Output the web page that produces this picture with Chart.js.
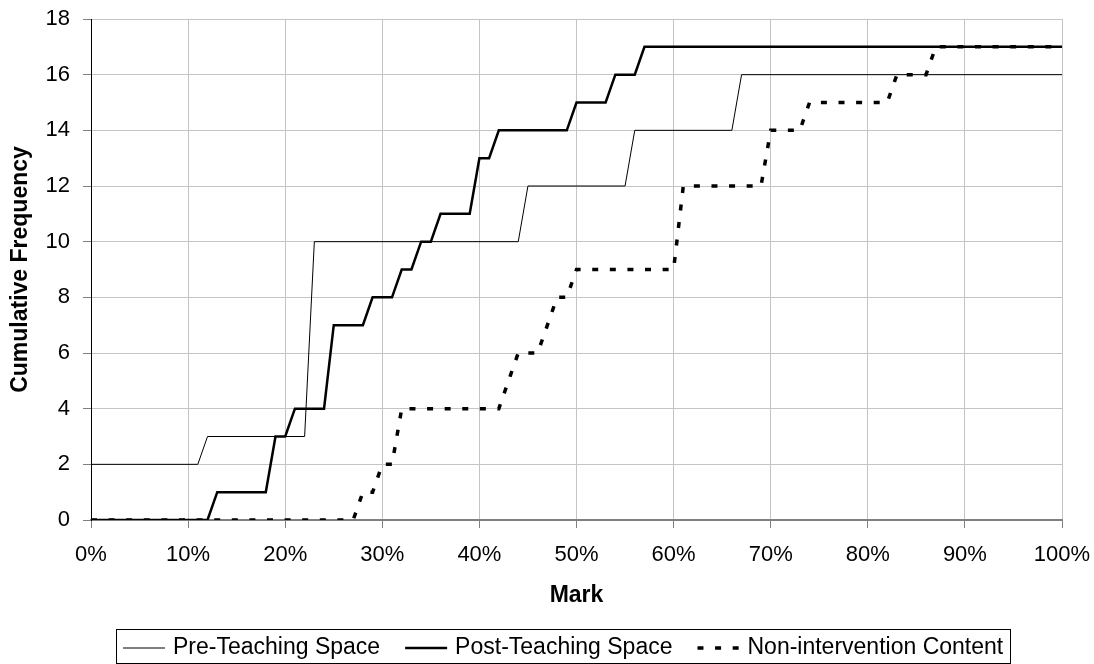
<!DOCTYPE html>
<html><head><meta charset="utf-8">
<script src="https://cdn.jsdelivr.net/npm/chart.js@4/dist/chart.umd.min.js"></script>
<style>html,body{margin:0;padding:0;background:#fff}canvas{display:block}</style>
</head><body>
<canvas id="c" width="1094" height="664"></canvas>
<script>
// ---- data ----
const seriesNames = ['Pre-Teaching Space', 'Post-Teaching Space', 'Non-intervention Content'];
const preMark  = [0, 11, 12, 22, 23, 44, 45, 55, 56, 66, 67, 100];
const preFreq  = [2, 2, 3, 3, 10, 10, 12, 12, 14, 14, 16, 16];
const postMark = [0, 12, 13, 18, 19, 20, 21, 24, 25, 28, 29, 31, 32, 33, 34, 35, 36, 39, 40, 41, 42, 49, 50, 53, 54, 56, 57, 100];
const postFreq = [0, 0, 1, 1, 3, 3, 4, 4, 7, 7, 8, 8, 9, 9, 10, 10, 11, 11, 13, 13, 14, 14, 15, 15, 16, 16, 17, 17];
const nonMark  = [0, 27, 28, 29, 30, 31, 32, 42, 44, 46, 48, 49, 50, 60, 61, 69, 70, 73, 74, 82, 83, 86, 87, 100];
const nonFreq  = [0, 0, 1, 1, 2, 2, 4, 4, 6, 6, 8, 8, 9, 9, 12, 12, 14, 14, 15, 15, 16, 16, 17, 17];
const xTickLabels = ['0%', '10%', '20%', '30%', '40%', '50%', '60%', '70%', '80%', '90%', '100%'];
const yTickLabels = ['0', '2', '4', '6', '8', '10', '12', '14', '16', '18'];
const xTitle = 'Mark';
const yTitle = 'Cumulative Frequency';

const FONT = '"Liberation Sans", Arial, Helvetica, sans-serif';
const toPoints = (xs, ys) => xs.map((x, i) => ({x: x, y: ys[i]}));

// custom boxed legend (Excel style)
const boxedLegend = {
  id: 'boxedLegend',
  afterDraw(chart, args, opts) {
    const ctx = chart.ctx;
    ctx.save();
    ctx.font = opts.fontSize + 'px ' + FONT;
    const yMid = opts.top + opts.height / 2 + 2;
    let x = opts.left + opts.pad;
    chart.data.datasets.forEach((ds, i) => {
      ctx.beginPath();
      ctx.setLineDash(ds.borderDash || []);
      ctx.lineWidth = ds.borderWidth;
      ctx.strokeStyle = ds.borderColor;
      ctx.lineCap = 'butt';
      ctx.moveTo(x, yMid);
      ctx.lineTo(x + opts.lineLen, yMid);
      ctx.stroke();
      ctx.setLineDash([]);
      x += opts.lineLen + opts.textGap;
      ctx.fillStyle = '#000';
      ctx.textBaseline = 'middle';
      ctx.textAlign = 'left';
      ctx.fillText(ds.label, x, yMid);
      x += ctx.measureText(ds.label).width;
      if (i < chart.data.datasets.length - 1) x += opts.itemGap;
    });
    const right = x + opts.pad;
    ctx.lineWidth = 1;
    ctx.strokeStyle = '#000';
    ctx.strokeRect(Math.round(opts.left) + 0.5, Math.round(opts.top) + 0.5,
                   Math.round(right - opts.left), Math.round(opts.height));
    ctx.restore();
  }
};

new Chart(document.getElementById('c'), {
  type: 'line',
  data: {
    datasets: [
      {label: seriesNames[0], data: toPoints(preMark, preFreq), borderColor: '#000', borderWidth: 1,
       pointRadius: 0, tension: 0, fill: false},
      {label: seriesNames[1], data: toPoints(postMark, postFreq), borderColor: '#000', borderWidth: 2.5,
       pointRadius: 0, tension: 0, fill: false, borderJoinStyle: 'miter'},
      {label: seriesNames[2], data: toPoints(nonMark, nonFreq), borderColor: '#000', borderWidth: 3.5,
       borderDash: [6, 11.6], pointRadius: 0, tension: 0, fill: false, borderJoinStyle: 'miter'}
    ]
  },
  options: {
    responsive: false,
    animation: false,
    devicePixelRatio: 1,
    events: [],
    layout: {padding: {left: 0, right: 32, top: 19, bottom: 55}},
    plugins: {
      legend: {display: false},
      tooltip: {enabled: false},
      boxedLegend: {left: 116, top: 629, height: 34, pad: 7, lineLen: 42, textGap: 8, itemGap: 25, fontSize: 23}
    },
    scales: {
      x: {
        type: 'linear', min: 0, max: 100,
        grid: {color: '#c4c4c4', lineWidth: 1, tickLength: 8, tickColor: '#808080'},
        border: {color: '#808080', width: 2},
        ticks: {stepSize: 10, autoSkip: false, maxRotation: 0, padding: 14, color: '#000',
                font: {family: FONT, size: 22},
                callback: (v) => xTickLabels[Math.round(v / 10)]},
        title: {display: true, text: xTitle, color: '#000', padding: {top: 13, bottom: 0},
                font: {family: FONT, size: 23, weight: 'bold'}},
        afterFit: (scale) => { scale.height = 89; scale.paddingLeft = 0; scale.paddingRight = 0; }
      },
      y: {
        min: 0, max: 18,
        grid: {color: '#c4c4c4', lineWidth: 1, tickLength: 8, tickColor: '#808080'},
        border: {color: '#000', width: 1},
        ticks: {stepSize: 2, padding: 13, color: '#000', font: {family: FONT, size: 22},
                callback: (v) => yTickLabels[Math.round(v / 2)]},
        title: {display: true, text: yTitle, color: '#000', padding: {top: 7, bottom: 0},
                font: {family: FONT, size: 23, weight: 'bold'}},
        afterFit: (scale) => { scale.width = 91; scale.paddingTop = 0; scale.paddingBottom = 0; }
      }
    }
  },
  plugins: [boxedLegend]
});
</script>
</body></html>
